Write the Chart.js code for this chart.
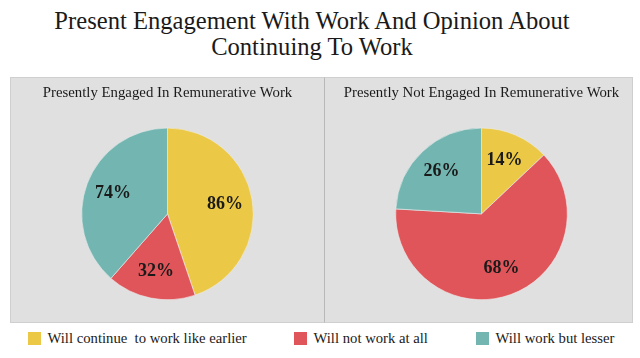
<!DOCTYPE html>
<html>
<head>
<meta charset="utf-8">
<script src="https://cdn.jsdelivr.net/npm/chart.js@4.4.1/dist/chart.umd.min.js"></script>
<style>
  html, body { margin: 0; padding: 0; background: #fff; }
  body { width: 640px; height: 358px; position: relative; overflow: hidden;
         font-family: 'Liberation Serif', serif; color: #1a1a1a; }
  #title { position: absolute; left: -8px; top: 8px; width: 640px; text-align: center;
           font-size: 24.6px; line-height: 26px; }
  .panel { position: absolute; top: 77px; height: 246px; background: #e0e0e0;
           box-sizing: border-box; border: 1px solid #cfcfcf; }
  #panelLeft { left: 10px; width: 315px; }
  #panelRight { left: 324px; width: 309px; border-left: 1px solid #b8b8b8; }
  .panel canvas { position: absolute; left: 0; top: 0; }
  .legend-item { position: absolute; top: 331px; font-size: 14.7px; line-height: 15px;
                 white-space: pre; }
  .legend-item .sw { position: absolute; left: 0; top: 1px; width: 13px; height: 13px; }
  .legend-item .tx { position: absolute; left: 19.5px; top: 0; }
</style>
</head>
<body>
<div id="title">Present Engagement With Work And Opinion About<br>Continuing To Work</div>
<div class="panel" id="panelLeft"><canvas id="chartLeft" width="313" height="244"></canvas></div>
<div class="panel" id="panelRight"><canvas id="chartRight" width="307" height="244"></canvas></div>
<div id="legend"></div>
<script>
const CATEGORIES = ["Will continue  to work like earlier", "Will not work at all", "Will work but lesser"];
const ENGAGED_VALUES = [86, 32, 74];
const NOT_ENGAGED_VALUES = [14, 68, 26];
const PANEL_TITLES = ["Presently Engaged In Remunerative Work", "Presently Not Engaged In Remunerative Work"];

const COLORS = ["#ebc845", "#e0555a", "#73b5b0"];
const LEGEND_X = [28, 294, 476];
const SERIF = "'Liberation Serif', serif";

Chart.defaults.font.family = SERIF;

// percent labels placed inside each slice
const sliceLabels = {
  id: "sliceLabels",
  afterDatasetsDraw(chart) {
    const ctx = chart.ctx;
    const meta = chart.getDatasetMeta(0);
    const data = chart.data.datasets[0].data;
    ctx.save();
    ctx.font = "bold 18px " + SERIF;
    ctx.fillStyle = "#1a1a1a";
    ctx.textAlign = "center";
    ctx.textBaseline = "middle";
    meta.data.forEach((arc, i) => {
      const p = arc.getProps(["x", "y", "startAngle", "endAngle", "outerRadius"], true);
      const mid = (p.startAngle + p.endAngle) / 2;
      const r = p.outerRadius * 0.68;
      ctx.fillText(data[i] + "%", p.x + Math.cos(mid) * r, p.y + Math.sin(mid) * r);
    });
    ctx.restore();
  },
};

function makePie(id, title, values, padLeft) {
  return new Chart(document.getElementById(id), {
    type: "pie",
    data: {
      labels: CATEGORIES,
      datasets: [
        {
          data: values,
          backgroundColor: COLORS,
          borderColor: "#eeeeee",
          borderWidth: 0.6,
        },
      ],
    },
    options: {
      responsive: false,
      animation: false,
      layout: { padding: { top: 0, bottom: 22, left: padLeft, right: 0 } },
      plugins: {
        legend: { display: false },
        tooltip: { enabled: false },
        title: {
          display: true,
          text: title,
          color: "#1a1a1a",
          font: { family: SERIF, size: 14.8, weight: "normal", lineHeight: 1.2 },
          padding: { top: 6, bottom: 26 },
        },
      },
    },
    plugins: [sliceLabels],
  });
}

makePie("chartLeft", PANEL_TITLES[0], ENGAGED_VALUES, 0);
makePie("chartRight", PANEL_TITLES[1], NOT_ENGAGED_VALUES, 6);

const legend = document.getElementById("legend");
CATEGORIES.forEach((c, i) => {
  const item = document.createElement("div");
  item.className = "legend-item";
  item.style.left = LEGEND_X[i] + "px";
  item.innerHTML = `<span class="sw" style="background:${COLORS[i]}"></span><span class="tx"></span>`;
  item.querySelector(".tx").textContent = c;
  legend.appendChild(item);
});
</script>
</body>
</html>
